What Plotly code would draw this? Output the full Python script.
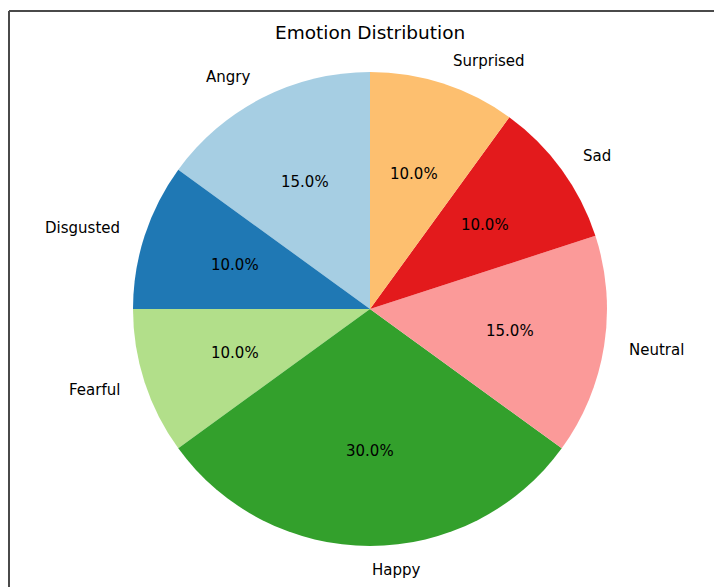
import math
import plotly.graph_objects as go

labels = ["Angry", "Disgusted", "Fearful", "Happy", "Neutral", "Sad", "Surprised"]
values = [15, 10, 10, 30, 15, 10, 10]
colors = ["#a6cee3", "#1f78b4", "#b2df8a", "#33a02c", "#fb9a99", "#e31a1c", "#fdbf6f"]
title = "Emotion Distribution"

OFF = 8  # page body margin
W, H = 722 - OFF, 587 - OFF
cx, cy, r = 370 - OFF, 309 - OFF, 237  # pie centre / radius in pixels (from top)
FONT = "DejaVu Sans"

total = sum(values)
first_span = 360.0 * values[0] / total

fig = go.Figure()
fig.add_trace(go.Pie(
    labels=labels, values=values, sort=False, direction="counterclockwise",
    rotation=-first_span, marker=dict(colors=colors, line=dict(width=0)),
    textinfo="none", hoverinfo="label+percent", showlegend=False,
    domain=dict(x=[(cx - r) / W, (cx + r) / W],
                y=[(H - cy - r) / H, (H - cy + r) / H]),
))

annotations = []
start = 90.0
for lab, v in zip(labels, values):
    span = 360.0 * v / total
    mid = math.radians(start + span / 2)
    start += span
    c, s = math.cos(mid), math.sin(mid)
    lx = cx + 1.1 * r * c
    ly = (H - cy) + 1.1 * r * s
    annotations.append(dict(
        x=lx / W, y=ly / H, xref="paper", yref="paper", text=lab, showarrow=False,
        xanchor="left" if c > -1e-6 else "right", yanchor="middle",
        font=dict(family=FONT, size=15, color="black")))
    px = cx + 0.6 * r * c
    py = (H - cy) + 0.6 * r * s
    annotations.append(dict(
        x=px / W, y=py / H, xref="paper", yref="paper",
        text=f"{100.0 * v / total:.1f}%", showarrow=False,
        xanchor="center", yanchor="middle",
        font=dict(family=FONT, size=15, color="black")))

annotations.append(dict(
    x=cx / W, y=1 - (32 - OFF) / H, xref="paper", yref="paper", text=title, showarrow=False,
    xanchor="center", yanchor="middle",
    font=dict(family=FONT, size=18.5, color="black")))

bx, by = (9 - OFF) / W, 1 - (11 - OFF) / H
fig.update_layout(
    width=W, height=H, margin=dict(l=0, r=0, t=0, b=0),
    paper_bgcolor="white", plot_bgcolor="white",
    annotations=annotations,
    shapes=[
        dict(type="line", xref="paper", yref="paper", x0=bx, x1=bx, y0=-0.01, y1=by,
             line=dict(color="#4a4a4a", width=2)),
        dict(type="line", xref="paper", yref="paper", x0=bx, x1=1.01, y0=by, y1=by,
             line=dict(color="#4a4a4a", width=2)),
    ],
)
fig.write_html("out.html")
